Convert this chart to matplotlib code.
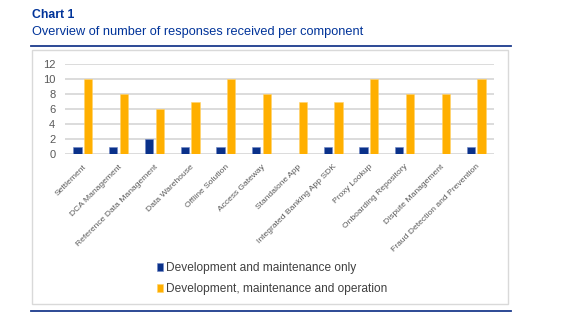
import numpy as np
import matplotlib.pyplot as plt
from matplotlib.patches import Rectangle
from matplotlib.lines import Line2D

plt.rcParams['font.family'] = ['Liberation Sans', 'DejaVu Sans']

components = ['Settlement', 'DCA Management', 'Reference Data Management',
              'Data Warehouse', 'Offline Solution', 'Access Gateway',
              'Standalone App', 'Integrated Banking App SDK', 'Proxy Lookup',
              'Onboarding Repository', 'Dispute Management',
              'Fraud Detection and Prevention']
dev_maint = [1, 1, 2, 1, 1, 1, 0, 1, 1, 1, 0, 1]
dev_maint_op = [10, 8, 6, 7, 10, 8, 7, 7, 10, 8, 8, 10]
series_names = ['Development and maintenance only',
                'Development, maintenance and operation']

navy = '#0A318A'
orange = '#FFAF00'
dark_blue = '#003399'
grey_txt = '#595959'

W, H = 564, 328
fig = plt.figure(figsize=(W / 100, H / 100), dpi=100)

def fx(px):
    return px / W

def fy(py):
    return 1 - py / H

# heading
fig.text(fx(32), fy(18), 'Chart 1', fontsize=8.8, fontweight='bold',
         color=dark_blue, va='baseline', ha='left')
fig.text(fx(32), fy(35.5), 'Overview of number of responses received per component',
         fontsize=9.15, color=dark_blue, va='baseline', ha='left')
fig.add_artist(Line2D([fx(31), fx(511)], [fy(45.7), fy(45.7)], color='#1B3A8C', lw=1.3))
fig.add_artist(Line2D([fx(31), fx(511)], [fy(311.3), fy(311.3)], color='#1B3A8C', lw=1.3))

# chart frame
fig.add_artist(Rectangle((fx(32), fy(304)), fx(508) - fx(32), fy(50) - fy(304),
                         fill=False, edgecolor='#D9D9D9', lw=1.0))

ax = fig.add_axes([fx(65), fy(154.3), fx(494) - fx(65), fy(64.3) - fy(154.3)])
x = np.arange(len(components))
w = 0.23
ax.bar(x - 0.15, dev_maint, w, color=navy, edgecolor='#6F86C4', lw=0.4,
       label=series_names[0], zorder=3)
ax.bar(x + 0.15, dev_maint_op, w, color=orange, edgecolor='#FFD36B', lw=0.4,
       label=series_names[1], zorder=3)

ax.set_xlim(-0.5, len(components) - 0.5)
ax.set_ylim(0, 12)
ax.set_yticks(range(0, 13, 2))
ax.yaxis.grid(True, color='#D9D9D9', lw=1.3, zorder=0)
ax.tick_params(axis='y', length=0, pad=7, labelsize=8, labelcolor=grey_txt)
ax.tick_params(axis='x', length=0, pad=6.5)
for s in ax.spines.values():
    s.set_visible(False)
ax.set_xticks(x)
ax.set_xticklabels(components, rotation=45, ha='right', va='top',
                   rotation_mode='anchor', fontsize=6.1, color=grey_txt)

handles, labels = ax.get_legend_handles_labels()
fig.legend(handles, labels, loc='upper left',
           bbox_to_anchor=(fx(152), fy(257.5)), frameon=False,
           fontsize=8.6, labelcolor='#404040', handlelength=0.55,
           handleheight=0.55, handletextpad=0.2, labelspacing=0.75,
           borderaxespad=0)

fig.savefig('out.png', dpi=100)
